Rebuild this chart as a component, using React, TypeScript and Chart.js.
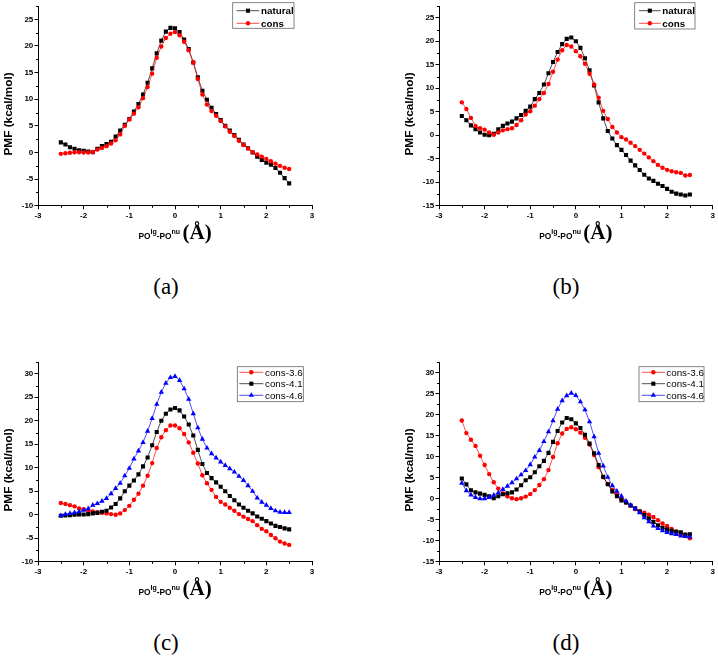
import React, { useEffect, useRef } from "react";
import { Chart, registerables } from "chart.js";

Chart.register(...registerables);

const SANS = '"Liberation Sans", Arial, sans-serif';
const SERIF = '"Liberation Serif", "Times New Roman", serif';

// ---- data ----
const X = [
  -2.5, -2.4, -2.3, -2.2, -2.1, -2.0, -1.9, -1.8, -1.7, -1.6,
  -1.5, -1.4, -1.3, -1.2, -1.1, -1.0, -0.9, -0.8, -0.7, -0.6,
  -0.5, -0.4, -0.3, -0.2, -0.1, 0.0, 0.1, 0.2, 0.3, 0.4,
  0.5, 0.6, 0.7, 0.8, 0.9, 1.0, 1.1, 1.2, 1.3, 1.4,
  1.5, 1.6, 1.7, 1.8, 1.9, 2.0, 2.1, 2.2, 2.3, 2.4,
  2.5,
];

const X_TICKS = [-3, -2, -1, 0, 1, 2, 3];

// (a)
const naturalA = [
  1.9, 1.5, 1.0, 0.7, 0.4, 0.3, 0.2, 0.05, 0.7, 1.2,
  1.6, 2.0, 3.0, 4.1, 5.2, 6.3, 7.7, 9.1, 10.9, 13.1,
  15.8, 18.6, 21.0, 22.7, 23.4, 23.3, 22.6, 21.2, 19.4, 16.9,
  14.1, 11.6, 9.9, 8.4, 7.2, 6.1, 5.0, 4.1, 3.3, 2.4,
  1.5, 0.8, 0.0, -0.8, -1.4, -1.9, -2.3, -2.9, -3.8, -4.8,
  -5.8,
];
const consA = [
  -0.25, -0.15, -0.05, 0.05, 0.05, 0.0, 0.0, 0.1, 0.55, 0.85,
  1.2, 1.7, 2.3, 3.4, 5.0, 6.2, 7.3, 8.5, 10.2, 12.3,
  14.8, 17.8, 19.9, 21.5, 22.3, 22.6, 22.0, 20.8, 19.2, 16.9,
  13.8, 10.9, 9.0, 7.8, 6.9, 5.9, 4.9, 3.9, 3.1, 2.2,
  1.4, 0.75, 0.1, -0.35, -0.8, -1.2, -1.65, -2.1, -2.5, -2.85,
  -3.1,
];

// (b)
const naturalB = [
  4.1, 3.2, 2.1, 1.3, 0.6, 0.1, 0.0, 0.3, 1.25, 2.0,
  2.5, 2.9, 3.6, 4.3, 5.2, 6.1, 7.7, 9.0, 10.8, 13.2,
  15.6, 17.7, 19.4, 20.5, 20.8, 20.0, 18.6, 16.4, 13.8, 10.6,
  7.0, 3.6, 0.9, -0.7, -2.1, -3.1, -4.2, -5.4, -6.4, -7.4,
  -8.4, -9.2, -9.7, -10.3, -10.8, -11.4, -12.0, -12.4, -12.6, -12.8,
  -12.6,
];
const consB = [
  7.0, 5.6, 3.7, 2.0, 1.5, 1.2, 0.6, 0.1, 0.6, 1.05,
  1.3, 1.5, 2.2, 3.2, 4.4, 5.1, 6.3, 7.7, 9.0, 10.9,
  13.5, 16.1, 18.1, 19.2, 18.9, 17.9, 16.8, 15.2, 13.1, 10.8,
  8.0, 5.2, 3.45, 1.75, 0.6, -0.4, -0.9, -1.6, -2.3, -3.1,
  -3.9, -4.7, -5.5, -6.3, -6.9, -7.35, -7.65, -7.85, -8.0, -8.55,
  -8.45,
];

// (c)
const cons36C = [
  2.5, 2.3, 2.05, 1.8, 1.35, 1.2, 0.9, 0.7, 0.55, 0.4,
  0.3, 0.15, 0.0, 0.3, 1.0, 1.9, 3.2, 4.5, 6.2, 8.3,
  11.0, 14.2, 16.5, 18.0, 19.0, 19.0, 18.4, 17.2, 15.4, 13.2,
  10.9, 8.4, 6.7, 5.3, 3.8, 2.75, 2.2, 1.5, 0.85, 0.15,
  -0.4, -0.9, -1.35, -2.2, -3.0, -3.5, -4.3, -5.0, -5.7, -6.1,
  -6.4,
];
const cons41C = [
  -0.2, -0.15, -0.1, 0.0, 0.05, 0.05, 0.15, 0.3, 0.4, 0.65,
  0.85, 1.55, 2.3, 3.5, 5.0, 6.2, 7.3, 8.6, 10.3, 12.2,
  14.8, 17.6, 20.0, 21.5, 22.4, 22.7, 22.2, 20.9, 19.2, 16.85,
  13.8, 10.8, 8.9, 7.8, 6.9, 5.95, 5.0, 4.0, 3.1, 2.2,
  1.5, 0.85, 0.3, -0.35, -0.85, -1.35, -1.85, -2.35, -2.6, -2.9,
  -3.1,
];
const cons46C = [
  -0.15, 0.1, 0.3, 0.45, 0.65, 1.0, 1.3, 2.05, 2.4, 2.9,
  3.5, 4.5, 5.6, 6.7, 8.3, 9.9, 11.9, 13.6, 15.4, 17.8,
  20.5, 23.5, 26.1, 28.0, 29.2, 29.45, 28.6, 26.8, 24.6, 21.5,
  18.5, 16.1, 14.2, 13.0, 12.1, 11.25, 10.5, 9.8, 9.1, 8.2,
  7.3, 6.2, 5.0, 3.6, 2.7, 2.05, 1.35, 0.85, 0.55, 0.5,
  0.5,
];

// (d)
const cons36D = [
  18.6, 15.6, 14.0, 12.55, 10.2, 8.0, 5.85, 3.9, 2.4, 1.25,
  0.55, 0.1, -0.1, 0.1, 0.5, 1.1, 2.05, 3.25, 4.65, 6.8,
  9.9, 13.2, 15.5, 16.6, 17.0, 16.5, 15.7, 14.5, 12.9, 10.4,
  7.5, 5.1, 3.5, 2.1, 1.0, -0.1, -0.9, -1.65, -2.45, -2.9,
  -3.3, -3.8, -4.35, -5.1, -5.9, -6.5, -7.2, -7.8, -8.45, -8.85,
  -9.4,
];
const cons41D = [
  4.8, 3.4, 2.0, 1.5, 1.2, 0.9, 0.6, 0.1, 0.6, 1.05,
  1.3, 1.5, 2.2, 3.2, 4.4, 5.1, 6.3, 7.7, 9.0, 10.9,
  13.5, 16.1, 18.1, 19.2, 18.9, 17.9, 16.8, 15.2, 13.1, 10.8,
  8.0, 5.2, 3.45, 1.75, 0.6, -0.4, -0.9, -1.6, -2.3, -3.1,
  -3.9, -4.7, -5.5, -6.3, -6.9, -7.35, -7.65, -7.85, -8.0, -8.55,
  -8.45,
];
const cons46D = [
  3.7, 1.9, 0.9, 0.3, 0.0, 0.0, 0.3, 0.85, 1.4, 2.2,
  3.0, 3.8, 4.75, 5.7, 6.7, 8.1, 9.9, 11.5, 13.6, 15.9,
  18.55, 21.3, 23.3, 24.5, 25.1, 24.55, 23.05, 21.15, 18.3, 14.75,
  10.8, 7.8, 5.1, 3.1, 1.8, 0.6, -0.55, -1.5, -2.4, -3.3,
  -4.5, -5.45, -6.5, -7.1, -7.6, -8.0, -8.3, -8.5, -8.85, -9.0,
  -9.1,
];

// ---- styling ----
type Marker = "rect" | "circle" | "triangle";
interface Series { label: string; values: number[]; color: string; marker: Marker; }

const RADIUS: Record<Marker, number> = { rect: 2.9, circle: 2.2, triangle: 3.1 };

interface LegendCfg { x1: number; y1: number; x2: number; y2: number; rows: number[]; lx1: number; lx2: number; tx: number; bold: boolean; }
interface PanelCfg {
  left: number; top: number; yMin: number; yMax: number; yWidth: number; padRight: number;
  series: Series[]; legend: LegendCfg; caption: string; capX: number; capY: number;
}

const W = 359;
const H = 250;
const AREA_TOP = 5.4;
const AREA_BOTTOM = 205.8;
const X_AXIS_H = 20;

const PANELS: PanelCfg[] = [
  {
    left: 0, top: 0, yMin: -10, yMax: 27.5, yWidth: 38, padRight: 47,
    series: [
      { label: "natural", values: naturalA, color: "#000000", marker: "rect" },
      { label: "cons", values: consA, color: "#ff0000", marker: "circle" },
    ],
    legend: { x1: 232.7, y1: 2.7, x2: 294, y2: 28.3, rows: [10.7, 23.3], lx1: 236.7, lx2: 259.3, tx: 261, bold: true },
    caption: "(a)", capX: 166, capY: 286,
  },
  {
    left: 359, top: 0, yMin: -15, yMax: 27.5, yWidth: 80, padRight: 5.3,
    series: [
      { label: "natural", values: naturalB, color: "#000000", marker: "rect" },
      { label: "cons", values: consB, color: "#ff0000", marker: "circle" },
    ],
    legend: { x1: 275.7, y1: 2.7, x2: 336, y2: 29, rows: [10.7, 23.3], lx1: 280, lx2: 301.7, tx: 303.3, bold: true },
    caption: "(b)", capX: 566, capY: 286,
  },
  {
    left: 0, top: 356, yMin: -10, yMax: 32.5, yWidth: 38, padRight: 47,
    series: [
      { label: "cons-3.6", values: cons36C, color: "#ff0000", marker: "circle" },
      { label: "cons-4.1", values: cons41C, color: "#000000", marker: "rect" },
      { label: "cons-4.6", values: cons46C, color: "#0000ff", marker: "triangle" },
    ],
    legend: { x1: 237.3, y1: 10.7, x2: 303.3, y2: 45.7, rows: [16.3, 27.7, 39.3], lx1: 239.3, lx2: 263.3, tx: 265, bold: false },
    caption: "(c)", capX: 166, capY: 642,
  },
  {
    left: 359, top: 356, yMin: -15, yMax: 32.5, yWidth: 80, padRight: 5.3,
    series: [
      { label: "cons-3.6", values: cons36D, color: "#ff0000", marker: "circle" },
      { label: "cons-4.1", values: cons41D, color: "#000000", marker: "rect" },
      { label: "cons-4.6", values: cons46D, color: "#0000ff", marker: "triangle" },
    ],
    legend: { x1: 280, y1: 10.7, x2: 345, y2: 45.7, rows: [16.3, 27.7, 39.3], lx1: 282.7, lx2: 306, tx: 307.3, bold: false },
    caption: "(d)", capX: 566, capY: 642,
  },
];

function drawMarker(ctx: CanvasRenderingContext2D, m: Marker, x: number, y: number, color: string) {
  const r = RADIUS[m];
  ctx.fillStyle = color;
  ctx.beginPath();
  if (m === "rect") {
    const s = Math.SQRT1_2 * r;
    ctx.rect(x - s, y - s, 2 * s, 2 * s);
  } else if (m === "circle") {
    ctx.arc(x, y, r, 0, Math.PI * 2);
  } else {
    let a = 0;
    ctx.moveTo(x + Math.sin(a) * r, y - Math.cos(a) * r);
    a += (2 * Math.PI) / 3;
    ctx.lineTo(x + Math.sin(a) * r, y - Math.cos(a) * r);
    a += (2 * Math.PI) / 3;
    ctx.lineTo(x + Math.sin(a) * r, y - Math.cos(a) * r);
    ctx.closePath();
  }
  ctx.fill();
}

const decorPlugin = {
  id: "pmfDecor",
  afterDraw(chart: any, _args: any, opts: any) {
    const { ctx, chartArea: ca, scales } = chart;
    const xs = scales.x;
    const ys = scales.y;
    const cfg: PanelCfg = opts.cfg;
    ctx.save();
    // minor ticks
    ctx.strokeStyle = "#000";
    ctx.lineWidth = 1;
    ctx.beginPath();
    for (let v = cfg.yMin + 2.5; v <= cfg.yMax + 1e-9; v += 5) {
      const py = Math.round(ys.getPixelForValue(v)) + 0.5;
      ctx.moveTo(ca.left - 2, py);
      ctx.lineTo(ca.left, py);
    }
    for (let i = 0; i < X_TICKS.length - 1; i++) {
      const v = (X_TICKS[i] + X_TICKS[i + 1]) / 2;
      const px = Math.round(xs.getPixelForValue(v)) + 0.5;
      ctx.moveTo(px, ca.bottom);
      ctx.lineTo(px, ca.bottom + 2);
    }
    ctx.stroke();

    // y title
    ctx.fillStyle = "#000";
    ctx.save();
    ctx.translate(ca.left - 29.3, (ca.top + ca.bottom) / 2 + 8);
    ctx.rotate(-Math.PI / 2);
    ctx.font = `bold 11.8px ${SANS}`;
    ctx.textAlign = "center";
    ctx.textBaseline = "middle";
    ctx.fillText("PMF (kcal/mol)", 0, 0);
    ctx.restore();

    // x title with superscripts
    const parts = [
      { t: "PO", f: `bold 8.4px ${SANS}`, dy: 0 },
      { t: "lg", f: `bold 7px ${SANS}`, dy: -5.5 },
      { t: "-PO", f: `bold 8.4px ${SANS}`, dy: 0 },
      { t: "nu", f: `bold 7px ${SANS}`, dy: -5.5 },
      { t: " ", f: `bold 8.4px ${SANS}`, dy: 0 },
      { t: "(Å)", f: `bold 21px ${SERIF}`, dy: 0 },
    ];
    let total = 0;
    const widths = parts.map((p) => {
      ctx.font = p.f;
      const w = ctx.measureText(p.t).width;
      total += w;
      return w;
    });
    let cx = (ca.left + ca.right) / 2 - total / 2;
    const base = ca.bottom + 33.3;
    ctx.textAlign = "left";
    ctx.textBaseline = "alphabetic";
    parts.forEach((p, i) => {
      ctx.font = p.f;
      ctx.fillText(p.t, cx, base + p.dy);
      cx += widths[i];
    });

    // legend
    const lg = cfg.legend;
    ctx.fillStyle = "#fff";
    ctx.fillRect(lg.x1, lg.y1, lg.x2 - lg.x1, lg.y2 - lg.y1);
    ctx.strokeStyle = "#666";
    ctx.lineWidth = 0.8;
    ctx.strokeRect(lg.x1, lg.y1, lg.x2 - lg.x1, lg.y2 - lg.y1);
    cfg.series.forEach((s, i) => {
      const ry = lg.rows[i];
      ctx.strokeStyle = s.color;
      ctx.lineWidth = 0.7;
      ctx.beginPath();
      ctx.moveTo(lg.lx1, ry);
      ctx.lineTo(lg.lx2, ry);
      ctx.stroke();
      drawMarker(ctx, s.marker, (lg.lx1 + lg.lx2) / 2, ry, s.color);
      ctx.fillStyle = "#000";
      ctx.font = `${lg.bold ? "bold " : ""}9.8px ${SANS}`;
      ctx.textAlign = "left";
      ctx.textBaseline = "middle";
      ctx.fillText(s.label, lg.tx, ry + 0.5);
    });
    ctx.restore();
  },
};

function Panel({ cfg }: { cfg: PanelCfg }) {
  const ref = useRef<HTMLCanvasElement>(null);
  useEffect(() => {
    const n = cfg.series.length;
    const tickFont = { family: SANS, size: 8, weight: "bold" as const };
    const chart = new Chart(ref.current!, {
      type: "line",
      data: {
        datasets: cfg.series.map((s, i) => ({
          label: s.label,
          data: X.map((x, k) => ({ x, y: s.values[k] })),
          borderColor: s.color,
          backgroundColor: s.color,
          borderWidth: 0.7,
          pointStyle: s.marker,
          pointRadius: RADIUS[s.marker],
          pointBackgroundColor: s.color,
          pointBorderColor: s.color,
          pointBorderWidth: 0,
          pointHoverRadius: RADIUS[s.marker],
          tension: 0,
          fill: false,
          order: n - i,
        })),
      },
      options: {
        responsive: false,
        maintainAspectRatio: false,
        animation: false,
        events: [],
        layout: {
          padding: { left: 0, top: AREA_TOP, right: cfg.padRight, bottom: H - AREA_BOTTOM - X_AXIS_H },
        },
        plugins: {
          legend: { display: false },
          tooltip: { enabled: false },
          pmfDecor: { cfg },
        } as any,
        scales: {
          x: {
            type: "linear",
            min: -3,
            max: 3,
            afterBuildTicks: (scale: any) => {
              scale.ticks = X_TICKS.map((v) => ({ value: v }));
            },
            afterFit: (scale: any) => {
              scale.height = X_AXIS_H;
            },
            ticks: { font: tickFont, color: "#000", padding: 1.4, maxRotation: 0, autoSkip: false },
            grid: { display: true, drawOnChartArea: false, drawTicks: true, tickLength: 3.5, color: "#000", lineWidth: 1 },
            border: { display: true, color: "#000", width: 1 },
          },
          y: {
            type: "linear",
            min: cfg.yMin,
            max: cfg.yMax,
            afterFit: (scale: any) => {
              scale.width = cfg.yWidth;
            },
            ticks: { stepSize: 5, includeBounds: false, font: tickFont, color: "#000", padding: 1.2, autoSkip: false },
            grid: { display: true, drawOnChartArea: false, drawTicks: true, tickLength: 3.5, color: "#000", lineWidth: 1 },
            border: { display: true, color: "#000", width: 1 },
          },
        },
      },
      plugins: [decorPlugin],
    });
    return () => chart.destroy();
  }, [cfg]);

  return (
    <>
      <canvas
        ref={ref}
        width={W}
        height={H}
        style={{ position: "absolute", left: cfg.left, top: cfg.top, width: W, height: H }}
      />
      <div
        style={{
          position: "absolute",
          left: cfg.capX,
          top: cfg.capY,
          transform: "translate(-50%, -50%)",
          font: `23px ${SERIF}`,
          lineHeight: "23px",
          color: "#000",
          whiteSpace: "nowrap",
        }}
      >
        {cfg.caption}
      </div>
    </>
  );
}

export default function App() {
  return (
    <div
      style={{
        position: "absolute",
        left: 0,
        top: 0,
        width: 718,
        height: 657,
        background: "#fff",
        overflow: "hidden",
      }}
    >
      {PANELS.map((p) => (
        <Panel key={p.caption} cfg={p} />
      ))}
    </div>
  );
}
